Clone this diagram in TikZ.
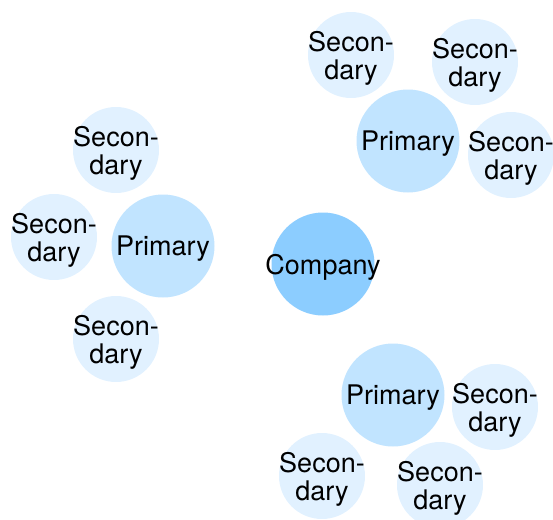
\documentclass[tikz,border=0pt]{standalone}
\usepackage{fontspec}
\setmainfont{TeX Gyre Heros}
\definecolor{CompanyBlue}{RGB}{140,205,255}
\definecolor{PrimaryBlue}{RGB}{193,228,255}
\definecolor{SecondaryBlue}{RGB}{225,241,255}
\tikzset{
  bubble/.style = {circle, inner sep=0pt},
  company/.style = {bubble, fill=CompanyBlue, minimum size=51.5pt},
  primary/.style = {bubble, fill=PrimaryBlue, minimum size=51.5pt},
  secondary/.style = {bubble, fill=SecondaryBlue, minimum size=43pt},
  word/.style = {align=center, inner sep=0pt, text depth=0pt,
                 font=\fontsize{13.5}{14}\selectfont}
}

\begin{document}
\begin{tikzpicture}[x=0.5pt, y=-0.5pt]
            \useasboundingbox (0,0) rectangle (553,520);
            %% Centre
            \node[company] (company) at (323,264) {};
            \node[word] (companytxt) at (company) {Company};
            %% Upper right group
            \node[primary] (pone) at (408,141) {};
            \node[word] (ponetxt) at (pone) {Primary};
            \node[secondary] (sonea) at (351,55) {};
            \node[secondary] (soneb) at (475,62) {};
            \node[secondary] (sonec) at (511,155) {};
            \node[word] (soneatxt) at (sonea) {Secon-\\dary};
            \node[word] (sonebtxt) at (soneb) {Secon-\\dary};
            \node[word] (sonectxt) at (sonec) {Secon-\\dary};
            %% Left group
            \node[primary] (ptwo) at (163,246) {};
            \node[word] (ptwotxt) at (ptwo) {Primary};
            \node[secondary] (stwoa) at (116,150) {};
            \node[secondary] (stwob) at (54,237) {};
            \node[secondary] (stwoc) at (116,339) {};
            \node[word] (stwoatxt) at (stwoa) {Secon-\\dary};
            \node[word] (stwobtxt) at (stwob) {Secon-\\dary};
            \node[word] (stwoctxt) at (stwoc) {Secon-\\dary};
            %% Lower group
            \node[primary] (pthree) at (393,395) {};
            \node[word] (pthreetxt) at (pthree) {Primary};
            \node[secondary] (sthreea) at (495,407) {};
            \node[secondary] (sthreeb) at (322,476) {};
            \node[secondary] (sthreec) at (440,485) {};
            \node[word] (sthreeatxt) at (sthreea) {Secon-\\dary};
            \node[word] (sthreebtxt) at (sthreeb) {Secon-\\dary};
            \node[word] (sthreectxt) at (sthreec) {Secon-\\dary};
\end{tikzpicture}
\end{document}
